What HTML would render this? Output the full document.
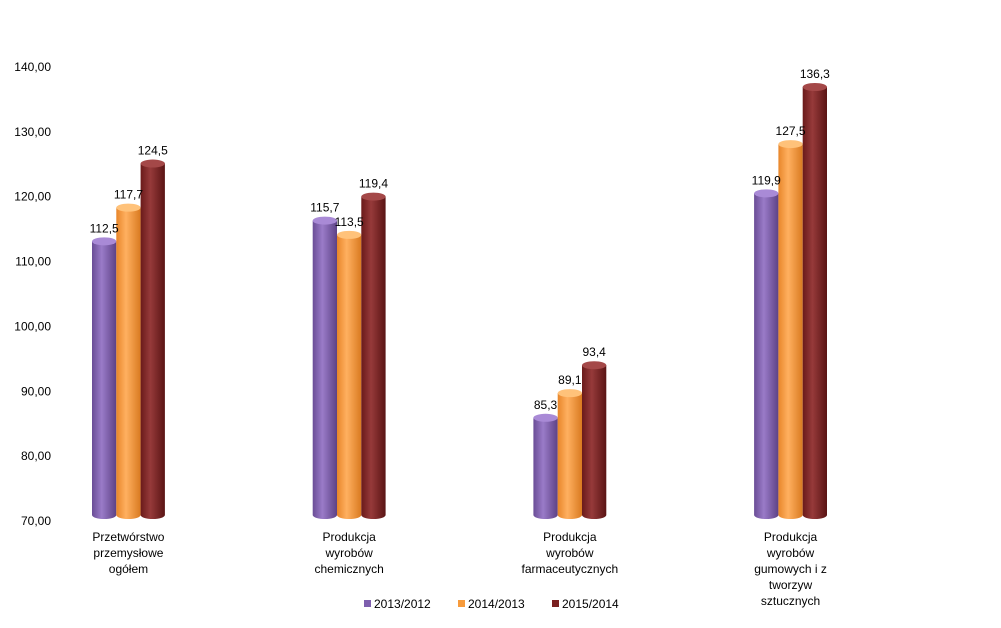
<!DOCTYPE html>
<html><head><meta charset="utf-8"><style>
body{margin:0;background:#fff;}
svg text{font-family:"Liberation Sans",sans-serif;}
</style></head><body>
<svg id="chart" width="1001" height="623" xmlns="http://www.w3.org/2000/svg">
<defs>
<linearGradient id="g0" x1="0" x2="1"><stop offset="0" stop-color="#6a4d96"/><stop offset="0.4" stop-color="#9a7bc8"/><stop offset="1" stop-color="#5d4286"/></linearGradient>
<linearGradient id="g1" x1="0" x2="1"><stop offset="0" stop-color="#e8862a"/><stop offset="0.4" stop-color="#ffb060"/><stop offset="1" stop-color="#d97a20"/></linearGradient>
<linearGradient id="g2" x1="0" x2="1"><stop offset="0" stop-color="#6a1a1a"/><stop offset="0.4" stop-color="#963a3a"/><stop offset="1" stop-color="#5a1414"/></linearGradient>
</defs>
<g id="axis"></g><g id="bars"></g><g id="labels"></g><g id="legend"></g>
</svg>
<script>
const categories=[["Przetwórstwo","przemysłowe","ogółem"],["Produkcja","wyrobów","chemicznych"],["Produkcja","wyrobów","farmaceutycznych"],["Produkcja","wyrobów","gumowych i z","tworzyw","sztucznych"]];
const seriesNames=["2013/2012","2014/2013","2015/2014"];
const s2013=[112.5,115.7,85.3,119.9];
const s2014=[117.7,113.5,89.1,127.5];
const s2015=[124.5,119.4,93.4,136.3];
const yTicks=[70,80,90,100,110,120,130,140];
const tops=["#a98ad6","#ffc27a","#a44848"];
const NS="http://www.w3.org/2000/svg";
function y(v){return 521-(v-70)*(521-67)/70;}
function groupX(i){return 92+i*220.7;}
function mk(tag,attrs,parent,txt){const e=document.createElementNS(NS,tag);for(const k in attrs)e.setAttribute(k,attrs[k]);if(txt!==undefined)e.textContent=txt;parent.appendChild(e);return e;}
const axis=document.getElementById('axis'),bars=document.getElementById('bars'),labels=document.getElementById('labels'),legend=document.getElementById('legend');
yTicks.forEach(t=>{const e=mk('text',{x:51,y:y(t)+4,'text-anchor':'end','font-size':12,fill:'#000'},axis,t.toFixed(2).replace('.',','));

});
const series=[s2013,s2014,s2015];
const bw=24.3;
series.forEach((s,si)=>{s.forEach((v,ci)=>{
 const x=groupX(ci)+si*bw,w=bw,top=y(v)-4,bot=515,ry=4;
 const g=mk('g',{},bars);
 
 
 mk('path',{d:`M${x},${top} L${x},${bot} A${w/2},${ry} 0 0 0 ${x+w},${bot} L${x+w},${top} Z`,fill:`url(#g${si})`},g);
 mk('ellipse',{cx:x+w/2,cy:top,rx:w/2,ry:ry,fill:tops[si]},g);
 const t=mk('text',{x:x+w/2,y:top-9,'text-anchor':'middle','font-size':12,fill:'#000'},labels,v.toFixed(1).replace('.',','));
 
 
});});
categories.forEach((c,ci)=>{const cx=groupX(ci)+bw*1.5;
 const t=mk('text',{x:cx,y:541,'text-anchor':'middle','font-size':12,fill:'#000'},labels);
 
 
 c.forEach((l,li)=>mk('tspan',{x:cx,dy:li?16:0},t,l));});
const lx=[364,458,552];
seriesNames.forEach((n,i)=>{const g=mk('g',{},legend);
 
 
 mk('rect',{x:lx[i],y:600,width:7,height:7,fill:['#7e5fae','#f79b3c','#7a2020'][i]},g);
 mk('text',{x:lx[i]+10,y:608,'font-size':12,fill:'#000'},g,n);});
</script>
</body></html>
